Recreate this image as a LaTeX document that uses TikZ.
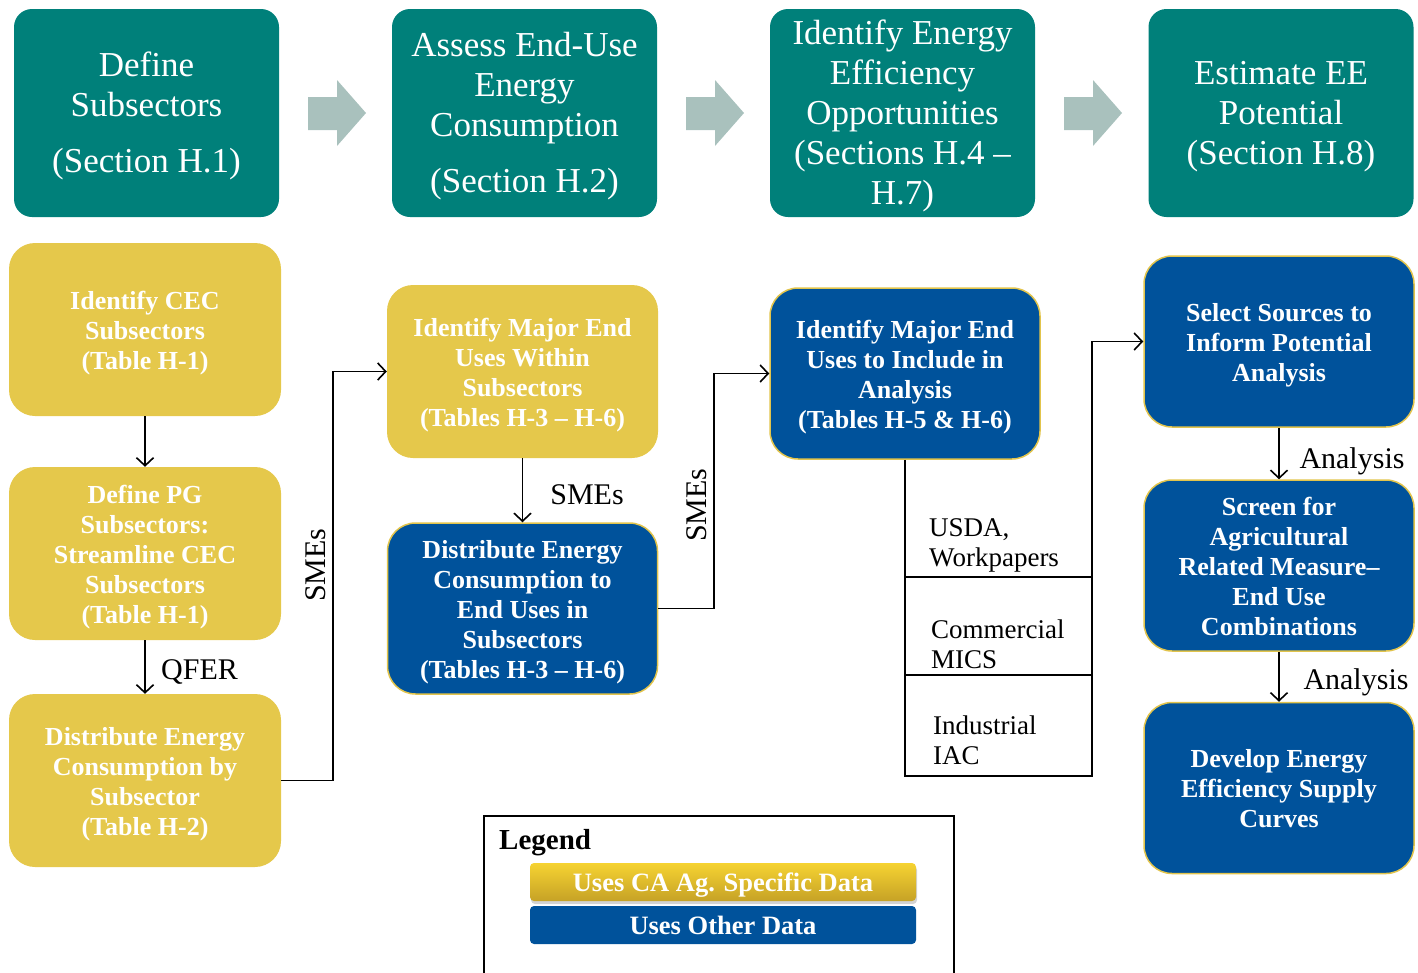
\documentclass[tikz,border=0pt]{standalone}
\usepackage{fontspec}
\setmainfont{Liberation Serif}
\usetikzlibrary{arrows.meta,shadows}
\definecolor{tealc}{HTML}{00807A}
\definecolor{yellowc}{HTML}{E5C84B}
\definecolor{bluec}{HTML}{00529B}
\definecolor{bordc}{HTML}{E2C44C}
\definecolor{grayarr}{HTML}{A9C1BD}
\definecolor{ytop}{HTML}{F6D332}
\definecolor{ybot}{HTML}{C6A226}
\newcommand{\TealA}{\rule{0pt}{30pt}}
\newcommand{\TealZ}{\rule[-7pt]{0pt}{7pt}}
\newcommand{\BoxA}{\rule{0pt}{26pt}}
\newcommand{\BoxZ}{\rule[-7pt]{0pt}{7pt}}
\tikzset{
  tealbox/.style={fill=tealc, rounded corners=18pt, text=white, align=center,
    font=\fontsize{35}{40}\selectfont, minimum width=265pt, minimum height=208pt, inner sep=0pt},
  ybox/.style={fill=yellowc, rounded corners=26pt, text=white, align=center,
    font=\fontsize{26}{30}\selectfont\bfseries, minimum width=272pt, minimum height=173pt, inner sep=0pt},
  bbox/.style={fill=bluec, draw=bordc, line width=1.5pt, rounded corners=28pt, text=white, align=center,
    font=\fontsize{26}{30}\selectfont\bfseries, minimum width=270pt, minimum height=171pt, inner sep=0pt},
  arr/.style={draw=black, line width=1.6pt, -{Straight Barb[length=8pt,width=17pt,line width=1.6pt]}},
  conn/.style={draw=black, line width=1.6pt},
  lbl/.style={font=\fontsize{30}{34}\selectfont, inner sep=0pt},
  celltext/.style={font=\fontsize{27}{30}\selectfont, align=left, anchor=west, inner sep=0pt},
  blockarrow/.style={fill=grayarr, draw=none},
  legbar/.style={rounded corners=4pt, text=white, font=\fontsize{26.5}{30}\selectfont\bfseries,
    minimum width=386pt, minimum height=38pt, inner sep=0pt, text height=18pt, text depth=0pt}
}
\begin{document}
\begin{tikzpicture}[x=1pt,y=-1pt]
\useasboundingbox (0,0) rectangle (1418,972);

% top row
\node[tealbox] (t1) at (146.5,113) {\TealA Define\\Subsectors\\[16pt](Section H.1)\TealZ};
\node[tealbox] (t2) at (524.5,113) {\TealA Assess End-Use\\Energy\\Consumption\\[16pt](Section H.2)\TealZ};
\node[tealbox] (t3) at (902.5,113) {\TealA Identify Energy\\Efficiency\\Opportunities\\(Sections H.4 --\\H.7)\TealZ};
\node[tealbox] (t4) at (1281,113) {\TealA Estimate EE\\Potential\\(Section H.8)\TealZ};

% block arrows
\foreach \x in {308,686,1064}{
  \fill[blockarrow] (\x,97) -- (\x+29,97) -- (\x+29,80) -- (\x+58,113) -- (\x+29,146) -- (\x+29,130) -- (\x,130) -- cycle;
}

% yellow boxes
\node[ybox] (y1) at (145,329.5) {\BoxA Identify CEC\\Subsectors\\(Table H-1)\BoxZ};
\node[ybox] (y2) at (145,553.5) {\BoxA Define PG\\Subsectors:\\Streamline CEC\\Subsectors\\(Table H-1)\BoxZ};
\node[ybox] (y3) at (145,780.5) {\BoxA Distribute Energy\\Consumption by\\Subsector\\(Table H-2)\BoxZ};
\node[ybox, minimum width=271pt] (y4) at (522.5,371.5) {\BoxA Identify Major End\\Uses Within\\Subsectors\\(Tables H-3 -- H-6)\BoxZ};

% blue boxes
\node[bbox] (b1) at (522.5,608.5) {\BoxA Distribute Energy\\Consumption to\\End Uses in\\Subsectors\\(Tables H-3 -- H-6)\BoxZ};
\node[bbox] (b2) at (905,373.5) {\BoxA Identify Major End\\Uses to Include in\\Analysis\\(Tables H-5 \& H-6)\BoxZ};
\node[bbox] (b3) at (1279,341.5) {\BoxA Select Sources to\\Inform Potential\\Analysis\BoxZ};
\node[bbox] (b4) at (1279,565.5) {\BoxA Screen for\\Agricultural\\Related Measure--\\End Use\\Combinations\BoxZ};
\node[bbox] (b5) at (1279,788) {\BoxA Develop Energy\\Efficiency Supply\\Curves\BoxZ};

% connectors
\draw[arr] (y1) -- (y2);
\draw[arr] (y2) -- (y3);
\node[lbl, anchor=west] (qfer) at (161,672) {QFER};
\draw[arr] (y3.east) -- ++(52,0) |- (y4.west);
\node[lbl, rotate=90] (sme1) at (316,565) {SMEs};
\draw[arr] (y4) -- (b1);
\node[lbl] (sme2) at (587,495) {SMEs};
\draw[arr] (b1.east) -- ++(56,0) |- (b2.west);
\node[lbl, rotate=90] (sme3) at (697,505) {SMEs};

% table connector
\coordinate (tbl) at (1092,776);
\coordinate (r1l) at (905,577);
\coordinate (r1r) at (1092,577);
\coordinate (r2l) at (905,675);
\coordinate (r2r) at (1092,675);
\draw[arr] (b2.south) |- (tbl) |- (b3.west);
\draw[conn] (r1l) -- (r1r);
\draw[conn] (r2l) -- (r2r);
\node[celltext] (c1) at (929,545) {USDA,\\Workpapers};
\node[celltext] (c2) at (931,644) {Commercial\\MICS};
\node[celltext] (c3) at (933,740) {Industrial\\IAC};

\draw[arr] (b3) -- (b4);
\node[lbl] (an1) at (1352,461) {Analysis};
\draw[arr] (b4) -- (b5);
\node[lbl] (an2) at (1356,682) {Analysis};

% legend
\coordinate (lg1) at (484,990);
\coordinate (lg2) at (484,816);
\coordinate (lg3) at (954,816);
\coordinate (lg4) at (954,990);
\draw[line width=1.5pt] (lg1) -- (lg2) -- (lg3) -- (lg4);
\node[anchor=base west, inner sep=0pt, font=\fontsize{29}{32}\selectfont\bfseries] (legend) at (499,849) {Legend};
\node[legbar, top color=ytop, bottom color=ybot, drop shadow={opacity=0.35,shadow xshift=1pt,shadow yshift=-3pt}] (lgy) at (723,882) {Uses CA Ag. Specific Data};
\node[legbar, fill=bluec] (lgb) at (723,925) {Uses Other Data};
\end{tikzpicture}
\end{document}
